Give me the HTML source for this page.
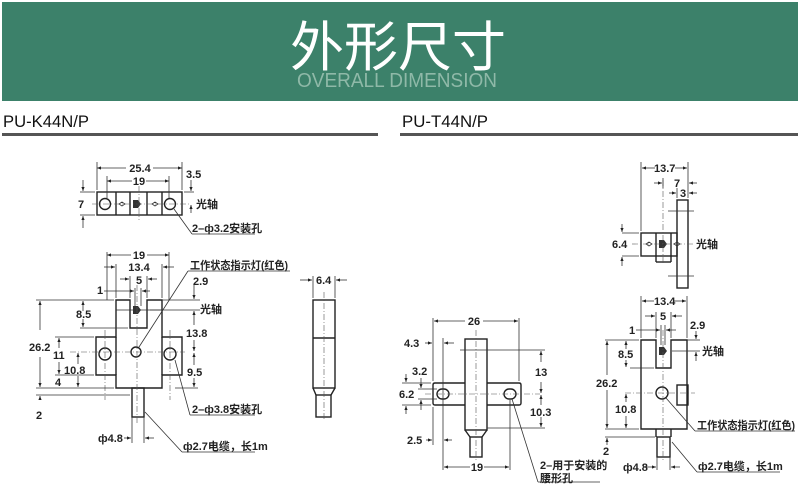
<!DOCTYPE html>
<html><head><meta charset="utf-8"><style>
html,body{margin:0;padding:0;background:#fff;width:800px;height:495px;overflow:hidden}
svg{display:block}
text{font-family:"Liberation Sans","Noto Sans CJK SC",sans-serif;fill:#222}
.o{stroke:#222;stroke-width:1.4;fill:none}
.d{stroke:#333;stroke-width:0.8;fill:none}
.c{stroke:#555;stroke-width:0.6;fill:none;stroke-dasharray:6 2 1 2}
.t{font-size:11px;font-weight:bold}
</style></head><body>
<svg width="800" height="495" viewBox="0 0 800 495" xmlns="http://www.w3.org/2000/svg">
<defs>
<marker id="a" markerWidth="6" markerHeight="6" refX="5" refY="3" orient="auto"><path d="M0,1 L5,3 L0,5 z" fill="#222"/></marker>
</defs>
<rect x="2" y="2" width="796" height="99" fill="#3c816a"/>
<text x="398" y="66" text-anchor="middle" style="font-size:54px;fill:#fff;font-family:'Noto Sans CJK SC',sans-serif">外形尺寸</text>
<text x="397" y="87" text-anchor="middle" style="font-size:20px;fill:#8fb9a8;font-family:'Liberation Sans Narrow','Liberation Sans',sans-serif" textLength="200" lengthAdjust="spacingAndGlyphs">OVERALL DIMENSION</text>
<text x="3" y="127" style="font-size:17px;fill:#111" textLength="86" lengthAdjust="spacingAndGlyphs">PU-K44N/P</text>
<text x="402" y="127" style="font-size:17px;fill:#111" textLength="86" lengthAdjust="spacingAndGlyphs">PU-T44N/P</text>
<rect x="2" y="133" width="376" height="3" fill="#555"/>
<rect x="400" y="133" width="398" height="3" fill="#555"/>

<!-- LEFT TOP VIEW -->
<g>
<rect class="o" x="97" y="192" width="85" height="23"/>
<line class="o" x1="116" y1="192" x2="116" y2="215"/><line class="o" x1="162" y1="192" x2="162" y2="215"/>
<line class="o" x1="130" y1="192" x2="130" y2="215"/><line class="o" x1="147" y1="192" x2="147" y2="215"/>
<circle class="o" cx="105" cy="204" r="5.5"/><circle class="o" cx="170" cy="204" r="5.5"/>
<path d="M133,200 h5 l3,4 l-3,4 h-5z" fill="#333"/>
<path class="d" d="M119,204 l3,-2 l3,2 l-3,2z M152,204 l3,-2 l3,2 l-3,2z"/>
<line class="c" x1="92" y1="204" x2="190" y2="204"/>
<line class="c" x1="139" y1="186" x2="139" y2="220"/>
<line class="d" x1="97" y1="162" x2="97" y2="190"/><line class="d" x1="182" y1="162" x2="182" y2="190"/>
<line class="d" x1="107" y1="176" x2="107" y2="198"/><line class="d" x1="169" y1="176" x2="169" y2="198"/>
<line class="d" x1="126" y1="168" x2="97" y2="168" marker-end="url(#a)"/><line class="d" x1="153" y1="168" x2="182" y2="168" marker-end="url(#a)"/>
<text class="t" x="140" y="172" text-anchor="middle">25.4</text>
<line class="d" x1="132" y1="181" x2="107" y2="181" marker-end="url(#a)"/><line class="d" x1="146" y1="181" x2="169" y2="181" marker-end="url(#a)"/>
<text class="t" x="139" y="185" text-anchor="middle">19</text>
<line class="d" x1="184" y1="192" x2="194" y2="192"/>
<line class="d" x1="191" y1="180" x2="191" y2="191" marker-end="url(#a)"/><line class="d" x1="191" y1="213" x2="191" y2="205" marker-end="url(#a)"/>
<text class="t" x="186" y="178">3.5</text>
<line class="d" x1="80" y1="192" x2="95" y2="192"/><line class="d" x1="80" y1="215" x2="95" y2="215"/>
<line class="d" x1="83" y1="180" x2="83" y2="191" marker-end="url(#a)"/><line class="d" x1="83" y1="228" x2="83" y2="216" marker-end="url(#a)"/>
<text class="t" x="78" y="208">7</text>
<text class="t" x="196" y="208">光轴</text>
<line class="d" x1="174" y1="209" x2="192" y2="234"/><line class="d" x1="192" y1="234" x2="255" y2="234"/>
<text class="t" x="192" y="232">2–ф3.2安装孔</text>
</g>

<!-- LEFT FRONT VIEW -->
<g>
<path class="o" d="M116,300 H130 V328 H147 V300 H162 V337 H182 V375 H162 V388 H116 V375 H96 V337 H116 Z"/>
<line class="o" x1="116" y1="337" x2="116" y2="375"/><line class="o" x1="162" y1="337" x2="162" y2="375"/>
<line class="d" x1="130" y1="310" x2="147" y2="310"/><line class="d" x1="130" y1="310" x2="116" y2="310"/><line class="d" x1="147" y1="310" x2="162" y2="310"/>
<circle class="o" cx="105" cy="354" r="6"/><circle class="o" cx="170" cy="354" r="6"/><circle class="o" cx="136" cy="352" r="5"/>
<path d="M133,306 h5 l3,4 l-3,4 h-5z" fill="#333"/>
<rect class="o" x="132" y="388" width="12" height="29"/>
<line class="c" x1="137" y1="285" x2="137" y2="425"/>
<line class="c" x1="105" y1="330" x2="105" y2="400"/><line class="c" x1="170" y1="330" x2="170" y2="400"/>
<line class="c" x1="70" y1="352" x2="185" y2="352"/>
<line class="d" x1="107" y1="252" x2="107" y2="300"/><line class="d" x1="169" y1="252" x2="169" y2="300"/>
<line class="d" x1="131" y1="255" x2="107" y2="255" marker-end="url(#a)"/><line class="d" x1="147" y1="255" x2="169" y2="255" marker-end="url(#a)"/>
<text class="t" x="139" y="259" text-anchor="middle">19</text>
<line class="d" x1="116" y1="264" x2="116" y2="298"/><line class="d" x1="162" y1="264" x2="162" y2="298"/>
<line class="d" x1="104" y1="267" x2="115" y2="267" marker-end="url(#a)"/><line class="d" x1="174" y1="267" x2="163" y2="267" marker-end="url(#a)"/>
<text class="t" x="139" y="271" text-anchor="middle">13.4</text>
<line class="d" x1="130" y1="276" x2="130" y2="298"/><line class="d" x1="147" y1="276" x2="147" y2="298"/>
<line class="d" x1="120" y1="279" x2="129" y2="279" marker-end="url(#a)"/><line class="d" x1="157" y1="279" x2="148" y2="279" marker-end="url(#a)"/>
<text class="t" x="139" y="284" text-anchor="middle">5</text>
<line class="d" x1="135" y1="288" x2="135" y2="306"/><line class="d" x1="141" y1="288" x2="141" y2="306"/>
<line class="d" x1="104" y1="291" x2="134" y2="291" marker-end="url(#a)"/><line class="d" x1="150" y1="291" x2="142" y2="291" marker-end="url(#a)"/>
<text class="t" x="97" y="294">1</text>
<text class="t" x="190" y="269" textLength="98" lengthAdjust="spacingAndGlyphs">工作状态指示灯(红色)</text>
<line class="d" x1="188" y1="271" x2="290" y2="271"/><line class="d" x1="188" y1="271" x2="139" y2="347"/>
<line class="d" x1="162" y1="300" x2="200" y2="300"/><line class="d" x1="150" y1="310" x2="200" y2="310"/>
<line class="d" x1="194" y1="285" x2="194" y2="299" marker-end="url(#a)"/><line class="d" x1="194" y1="325" x2="194" y2="311" marker-end="url(#a)"/>
<text class="t" x="193" y="285">2.9</text>
<text class="t" x="200" y="313">光轴</text>
<text class="t" x="186" y="337">13.8</text>
<line class="d" x1="194" y1="340" x2="194" y2="351" marker-end="url(#a)"/>
<line class="d" x1="175" y1="388" x2="198" y2="388"/>
<line class="d" x1="194" y1="365" x2="194" y2="353" marker-end="url(#a)"/><line class="d" x1="194" y1="378" x2="194" y2="387" marker-end="url(#a)"/>
<text class="t" x="187" y="376">9.5</text>
<line class="d" x1="175" y1="360" x2="190" y2="415"/><line class="d" x1="190" y1="415" x2="255" y2="415"/>
<text class="t" x="192" y="413">2–ф3.8安装孔</text>
<line class="d" x1="36" y1="300" x2="114" y2="300"/><line class="d" x1="36" y1="388" x2="114" y2="388"/>
<line class="d" x1="40" y1="330" x2="40" y2="301" marker-end="url(#a)"/><line class="d" x1="40" y1="357" x2="40" y2="387" marker-end="url(#a)"/>
<text class="t" x="29" y="351">26.2</text>
<line class="d" x1="80" y1="328" x2="128" y2="328"/>
<line class="d" x1="83" y1="311" x2="83" y2="301" marker-end="url(#a)"/><line class="d" x1="83" y1="319" x2="83" y2="327" marker-end="url(#a)"/>
<text class="t" x="76" y="318">8.5</text>
<line class="d" x1="55" y1="337" x2="94" y2="337"/><line class="d" x1="55" y1="375" x2="94" y2="375"/>
<line class="d" x1="59" y1="348" x2="59" y2="338" marker-end="url(#a)"/><line class="d" x1="59" y1="362" x2="59" y2="374" marker-end="url(#a)"/>
<text class="t" x="53" y="359">11</text>
<line class="d" x1="78" y1="364" x2="78" y2="353" marker-end="url(#a)"/><line class="d" x1="78" y1="376" x2="78" y2="387" marker-end="url(#a)"/>
<text class="t" x="64" y="374">10.8</text>
<text class="t" x="55" y="386">4</text>
<line class="d" x1="36" y1="395" x2="130" y2="395"/>
<line class="d" x1="40" y1="400" x2="40" y2="396" marker-end="url(#a)"/>
<text class="t" x="36" y="419">2</text>
<line class="d" x1="132" y1="417" x2="132" y2="443"/><line class="d" x1="144" y1="417" x2="144" y2="443"/>
<line class="d" x1="124" y1="438" x2="131" y2="438" marker-end="url(#a)"/><line class="d" x1="154" y1="438" x2="145" y2="438" marker-end="url(#a)"/>
<text class="t" x="98" y="442">ф4.8</text>
<line class="d" x1="145" y1="412" x2="182" y2="452"/><line class="d" x1="182" y1="452" x2="255" y2="452"/>
<text class="t" x="183" y="450">ф2.7电缆，长1m</text>
</g>

<!-- LEFT SIDE VIEW -->
<g>
<rect class="o" x="313" y="300" width="22" height="88"/>
<line class="o" x1="313" y1="338" x2="335" y2="338"/>
<line class="o" x1="313" y1="388" x2="316" y2="395"/><line class="o" x1="335" y1="388" x2="331" y2="395"/>
<rect class="o" x="316" y="395" width="15" height="22"/>
<line class="c" x1="324" y1="292" x2="324" y2="420"/>
<line class="d" x1="313" y1="276" x2="313" y2="298"/><line class="d" x1="335" y1="276" x2="335" y2="298"/>
<line class="d" x1="300" y1="280" x2="312" y2="280" marker-end="url(#a)"/><line class="d" x1="347" y1="280" x2="336" y2="280" marker-end="url(#a)"/>
<text class="t" x="316" y="284">6.4</text>
</g>

<!-- RIGHT TOP VIEW -->
<g>
<rect class="o" x="677" y="200" width="11" height="88"/>
<rect class="o" x="641" y="233" width="36" height="23"/>
<line class="o" x1="656" y1="233" x2="656" y2="256"/><line class="o" x1="671" y1="233" x2="671" y2="256"/>
<line class="o" x1="656" y1="256" x2="656" y2="262"/><line class="o" x1="656" y1="262" x2="671" y2="262"/><line class="o" x1="671" y1="256" x2="671" y2="262"/>
<path d="M659,240 h5 l3,4 l-3,4 h-5z" fill="#333"/>
<path class="d" d="M646,244 l3,-2 l3,2 l-3,2z M674,244 l3,-2 l3,2 l-3,2z"/>
<line class="c" x1="632" y1="244" x2="695" y2="244"/>
<line class="c" x1="663" y1="180" x2="663" y2="265"/>
<line class="d" x1="668" y1="211" x2="694" y2="211"/><line class="d" x1="668" y1="276" x2="694" y2="276"/>
<line class="d" x1="641" y1="162" x2="641" y2="231"/><line class="d" x1="688" y1="162" x2="688" y2="198"/>
<line class="d" x1="655" y1="168" x2="642" y2="168" marker-end="url(#a)"/><line class="d" x1="675" y1="168" x2="687" y2="168" marker-end="url(#a)"/>
<text class="t" x="654" y="172">13.7</text>
<line class="d" x1="663" y1="178" x2="663" y2="188"/><line class="d" x1="677" y1="188" x2="677" y2="198"/>
<line class="d" x1="654" y1="183" x2="662" y2="183" marker-end="url(#a)"/><line class="d" x1="697" y1="183" x2="689" y2="183" marker-end="url(#a)"/>
<text class="t" x="674" y="187">7</text>
<line class="d" x1="669" y1="193" x2="676" y2="193" marker-end="url(#a)"/><line class="d" x1="697" y1="193" x2="689" y2="193" marker-end="url(#a)"/>
<text class="t" x="680" y="197">3</text>
<line class="d" x1="622" y1="233" x2="639" y2="233"/><line class="d" x1="622" y1="256" x2="639" y2="256"/>
<line class="d" x1="622" y1="224" x2="622" y2="232" marker-end="url(#a)"/><line class="d" x1="622" y1="266" x2="622" y2="257" marker-end="url(#a)"/>
<text class="t" x="612" y="248">6.4</text>
<text class="t" x="696" y="248">光轴</text>
</g>

<!-- RIGHT FRONT VIEW (T left) -->
<g>
<rect class="o" x="465" y="339" width="22" height="91"/>
<path class="o" d="M435,383 H465 M487,383 H519 Q521,383 521,385 V403 Q521,405 519,405 H487 M465,405 H435 Q433,405 433,403 V385 Q433,383 435,383"/>
<rect class="o" x="437" y="389" width="12" height="10" rx="5"/><rect class="o" x="504" y="389" width="12" height="10" rx="5"/>
<line class="o" x1="465" y1="430" x2="470" y2="437"/><line class="o" x1="487" y1="430" x2="482" y2="437"/>
<rect class="o" x="470" y="437" width="12" height="20"/>
<line class="c" x1="476" y1="330" x2="476" y2="460"/>
<line class="c" x1="425" y1="394" x2="540" y2="394"/>
<line class="d" x1="433" y1="318" x2="433" y2="381"/><line class="d" x1="519" y1="318" x2="519" y2="381"/>
<line class="d" x1="465" y1="321" x2="434" y2="321" marker-end="url(#a)"/><line class="d" x1="483" y1="321" x2="518" y2="321" marker-end="url(#a)"/>
<text class="t" x="474" y="325" text-anchor="middle">26</text>
<line class="d" x1="443" y1="338" x2="443" y2="470"/>
<line class="d" x1="425" y1="343" x2="432" y2="343" marker-end="url(#a)"/><line class="d" x1="454" y1="343" x2="444" y2="343" marker-end="url(#a)"/>
<text class="t" x="404" y="347">4.3</text>
<line class="d" x1="460" y1="350" x2="545" y2="350"/><line class="d" x1="487" y1="428" x2="545" y2="428"/>
<line class="d" x1="541" y1="362" x2="541" y2="351" marker-end="url(#a)"/><line class="d" x1="541" y1="382" x2="541" y2="393" marker-end="url(#a)"/>
<text class="t" x="535" y="376">13</text>
<line class="d" x1="541" y1="405" x2="541" y2="395" marker-end="url(#a)"/><line class="d" x1="541" y1="417" x2="541" y2="427" marker-end="url(#a)"/>
<text class="t" x="530" y="416">10.3</text>
<line class="d" x1="402" y1="383" x2="431" y2="383"/><line class="d" x1="402" y1="405" x2="431" y2="405"/>
<line class="d" x1="418" y1="389" x2="437" y2="389"/><line class="d" x1="418" y1="399" x2="437" y2="399"/>
<line class="d" x1="406" y1="374" x2="406" y2="382" marker-end="url(#a)"/><line class="d" x1="406" y1="414" x2="406" y2="406" marker-end="url(#a)"/>
<line class="d" x1="421" y1="378" x2="421" y2="388" marker-end="url(#a)"/><line class="d" x1="421" y1="410" x2="421" y2="400" marker-end="url(#a)"/>
<text class="t" x="412" y="375">3.2</text>
<text class="t" x="399" y="398">6.2</text>
<line class="d" x1="433" y1="407" x2="433" y2="445"/>
<line class="d" x1="426" y1="440" x2="432" y2="440" marker-end="url(#a)"/><line class="d" x1="452" y1="440" x2="444" y2="440" marker-end="url(#a)"/>
<text class="t" x="407" y="444">2.5</text>
<line class="d" x1="510" y1="400" x2="510" y2="470"/>
<line class="d" x1="470" y1="467" x2="444" y2="467" marker-end="url(#a)"/><line class="d" x1="484" y1="467" x2="509" y2="467" marker-end="url(#a)"/>
<text class="t" x="477" y="471" text-anchor="middle">19</text>
<line class="d" x1="512" y1="399" x2="538" y2="482"/><line class="d" x1="538" y1="482" x2="600" y2="482"/>
<text class="t" x="540" y="469">2–用于安装的</text>
<text class="t" x="540" y="482">腰形孔</text>
</g>

<!-- RIGHT FRONT VIEW 2 -->
<g>
<path class="o" d="M641,340 H656 V368 H671 V340 H687 V429 H641 Z"/>
<rect class="o" x="677" y="385" width="11" height="20"/>
<circle class="o" cx="662" cy="393" r="6"/>
<path d="M659,347 h5 l3,4 l-3,4 h-5z" fill="#333"/>
<line class="o" x1="656" y1="429" x2="656" y2="437"/><line class="o" x1="671" y1="429" x2="671" y2="437"/>
<rect class="o" x="657" y="437" width="13" height="20"/>
<line class="c" x1="663" y1="330" x2="663" y2="460"/>
<line class="c" x1="625" y1="393" x2="695" y2="393"/>
<line class="d" x1="641" y1="296" x2="641" y2="338"/><line class="d" x1="687" y1="296" x2="687" y2="338"/>
<line class="d" x1="654" y1="301" x2="642" y2="301" marker-end="url(#a)"/><line class="d" x1="674" y1="301" x2="686" y2="301" marker-end="url(#a)"/>
<text class="t" x="654" y="305">13.4</text>
<line class="d" x1="656" y1="312" x2="656" y2="338"/><line class="d" x1="671" y1="312" x2="671" y2="338"/>
<line class="d" x1="645" y1="316" x2="655" y2="316" marker-end="url(#a)"/><line class="d" x1="682" y1="316" x2="672" y2="316" marker-end="url(#a)"/>
<text class="t" x="660" y="320">5</text>
<line class="d" x1="661" y1="325" x2="661" y2="345"/><line class="d" x1="665" y1="325" x2="665" y2="345"/>
<line class="d" x1="636" y1="330" x2="660" y2="330" marker-end="url(#a)"/><line class="d" x1="676" y1="330" x2="666" y2="330" marker-end="url(#a)"/>
<text class="t" x="629" y="334">1</text>
<line class="d" x1="687" y1="340" x2="700" y2="340"/><line class="d" x1="672" y1="351" x2="700" y2="351"/>
<line class="d" x1="696" y1="331" x2="696" y2="339" marker-end="url(#a)"/><line class="d" x1="696" y1="361" x2="696" y2="352" marker-end="url(#a)"/>
<text class="t" x="690" y="329">2.9</text>
<text class="t" x="702" y="355">光轴</text>
<line class="d" x1="605" y1="340" x2="639" y2="340"/><line class="d" x1="605" y1="429" x2="639" y2="429"/>
<line class="d" x1="630" y1="368" x2="654" y2="368"/>
<line class="d" x1="626" y1="349" x2="626" y2="341" marker-end="url(#a)"/><line class="d" x1="626" y1="360" x2="626" y2="367" marker-end="url(#a)"/>
<text class="t" x="618" y="358">8.5</text>
<line class="d" x1="607" y1="375" x2="607" y2="341" marker-end="url(#a)"/><line class="d" x1="607" y1="390" x2="607" y2="428" marker-end="url(#a)"/>
<text class="t" x="596" y="387">26.2</text>
<line class="d" x1="626" y1="402" x2="626" y2="394" marker-end="url(#a)"/><line class="d" x1="626" y1="416" x2="626" y2="428" marker-end="url(#a)"/>
<text class="t" x="615" y="413">10.8</text>
<line class="d" x1="605" y1="437" x2="655" y2="437"/>
<line class="d" x1="607" y1="445" x2="607" y2="438" marker-end="url(#a)"/>
<text class="t" x="603" y="455">2</text>
<line class="d" x1="666" y1="398" x2="695" y2="431"/><line class="d" x1="695" y1="431" x2="795" y2="431"/>
<text class="t" x="697" y="429" textLength="98" lengthAdjust="spacingAndGlyphs">工作状态指示灯(红色)</text>
<line class="d" x1="657" y1="457" x2="657" y2="470"/><line class="d" x1="670" y1="457" x2="670" y2="470"/>
<line class="d" x1="646" y1="467" x2="656" y2="467" marker-end="url(#a)"/><line class="d" x1="680" y1="467" x2="671" y2="467" marker-end="url(#a)"/>
<text class="t" x="623" y="471">ф4.8</text>
<line class="d" x1="672" y1="442" x2="697" y2="472"/><line class="d" x1="697" y1="472" x2="780" y2="472"/>
<text class="t" x="698" y="470">ф2.7电缆，长1m</text>
</g>
</svg>
</body></html>
